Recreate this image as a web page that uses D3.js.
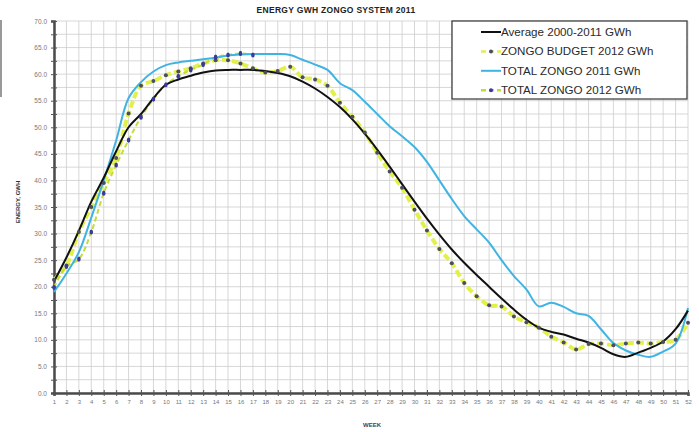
<!DOCTYPE html>
<html>
<head>
<meta charset="utf-8">
<script src="https://cdn.jsdelivr.net/npm/d3@7"></script>
<style>
  body { margin: 0; background: #fff; }
  svg { display: block; font-family: Arial, "Liberation Sans", sans-serif; }
</style>
</head>
<body>
<div id="plot"></div>
<script>
// Chart data
const weeks = [1,2,3,4,5,6,7,8,9,10,11,12,13,14,15,16,17,18,19,20,21,22,23,24,25,26,
               27,28,29,30,31,32,33,34,35,36,37,38,39,40,41,42,43,44,45,46,47,48,49,50,51,52];

const average = [21.0,25.5,30.5,36.0,40.5,45.5,50.0,52.5,55.5,58.0,59.0,59.7,60.3,60.7,60.8,60.8,
                 60.8,60.6,60.2,59.6,58.6,57.3,55.7,53.8,51.5,48.8,45.8,42.6,39.3,36.0,32.8,29.8,
                 27.0,24.5,22.2,20.0,17.8,15.7,13.8,12.3,11.5,11.0,10.2,9.5,8.5,7.3,6.8,7.6,8.5,9.7,12.0,15.5];

const budget2012 = [21.3,24.0,30.3,35.0,39.5,44.2,52.6,57.8,58.7,59.8,60.5,61.1,62.0,62.6,62.6,62.0,
                    61.1,60.3,60.6,61.4,59.4,59.0,57.8,54.6,52.0,49.0,45.2,41.7,38.6,34.5,30.6,27.1,
                    24.4,20.7,18.2,16.5,16.3,14.4,13.3,12.3,10.6,9.5,8.2,9.2,9.3,9.0,9.3,9.5,9.3,9.6,10.0,13.2];

const total2011 = [19.0,22.5,26.5,33.0,40.0,47.5,55.5,58.5,60.5,61.7,62.2,62.5,62.8,63.1,63.5,63.7,
                   63.8,63.8,63.8,63.6,62.7,61.8,60.8,58.3,57.0,54.8,52.5,50.2,48.3,46.3,43.5,40.0,
                   36.5,33.3,30.8,28.3,25.0,22.0,19.5,16.3,17.0,16.2,15.0,14.5,12.0,9.4,8.0,7.2,6.8,7.8,9.3,16.0];

// 2012 actuals only up to week 17
const total2012 = [19.9,23.8,25.2,30.3,37.6,42.9,47.6,51.9,55.3,58.0,59.6,60.8,61.8,63.2,63.6,63.9,63.6];

const yTicks = [0,5,10,15,20,25,30,35,40,45,50,55,60,65,70];

const seriesNames = ["Average  2000-2011 GWh", "ZONGO BUDGET 2012 GWh",
                     "TOTAL ZONGO  2011 GWh", "TOTAL ZONGO  2012 GWh"];

// Set up dimensions
const margin = {top: 21, right: 11, bottom: 39, left: 54};
const width = 699 - margin.left - margin.right;
const height = 432 - margin.top - margin.bottom;

const root = d3.select("#plot")
    .append("svg")
    .attr("width", width + margin.left + margin.right)
    .attr("height", height + margin.top + margin.bottom);

const svg = root.append("g")
    .attr("transform", `translate(${margin.left},${margin.top})`);

// Scales
const x = d3.scaleLinear().domain([1, 52]).range([0, width]);
const y = d3.scaleLinear().domain([0, 70]).range([height, 0]);

// Grid
const minorY = d3.range(0, 70.01, 2.5);
svg.append("g").selectAll("line")
    .data(minorY)
    .join("line")
    .attr("x1", 0).attr("x2", width)
    .attr("y1", d => y(d)).attr("y2", d => y(d))
    .attr("stroke", "#cdcdcd")
    .attr("stroke-width", 0.8);

svg.append("g").selectAll("line")
    .data(weeks)
    .join("line")
    .attr("x1", d => x(d)).attr("x2", d => x(d))
    .attr("y1", 0).attr("y2", height)
    .attr("stroke", "#cdcdcd")
    .attr("stroke-width", 0.8);

// Axes
const yAxis = svg.append("g")
    .call(d3.axisLeft(y).tickValues(minorY).tickSize(3)
        .tickFormat(d => yTicks.includes(d) ? d.toFixed(1) : ""));
svg.append("g")
    .call(d3.axisRight(y).tickValues(minorY).tickSize(3).tickFormat(""))
    .select(".domain").remove();

const xAxis = svg.append("g")
    .attr("transform", `translate(0,${height})`)
    .call(d3.axisBottom(x).tickValues(weeks).tickSize(3));
svg.append("g")
    .attr("transform", `translate(0,${height})`)
    .call(d3.axisTop(x).tickValues(weeks).tickSize(3).tickFormat(""))
    .select(".domain").remove();

svg.selectAll(".domain").attr("stroke", "#4a4a4a").attr("stroke-width", 2.5);
svg.selectAll(".tick line").attr("stroke", "#555");
yAxis.selectAll("text").attr("font-size", 6.5).attr("fill", "#777").attr("dx", -1);
xAxis.selectAll("text").attr("font-size", 6).attr("fill", "#777").attr("dy", "0.9em");

// Lines
const line = d3.line()
    .x((d, i) => x(weeks[i]))
    .y(d => y(d))
    .curve(d3.curveCatmullRom.alpha(0.5));

svg.append("path").datum(budget2012)
    .attr("fill", "none")
    .attr("stroke", "#e2f04a")
    .attr("stroke-width", 4)
    .attr("stroke-dasharray", "7,3")
    .attr("d", line);

svg.append("path").datum(total2012)
    .attr("fill", "none")
    .attr("stroke", "#c4dc3a")
    .attr("stroke-width", 2)
    .attr("stroke-dasharray", "5,3")
    .attr("d", line);

svg.append("path").datum(total2011)
    .attr("fill", "none")
    .attr("stroke", "#3fb4e2")
    .attr("stroke-width", 2)
    .attr("d", line);

svg.append("path").datum(average)
    .attr("fill", "none")
    .attr("stroke", "#111")
    .attr("stroke-width", 2)
    .attr("d", line);

// Markers
svg.append("g").selectAll("circle")
    .data(budget2012)
    .join("circle")
    .attr("cx", (d, i) => x(weeks[i]))
    .attr("cy", d => y(d))
    .attr("r", 2)
    .attr("fill", "#4c4c62");

svg.append("g").selectAll("ellipse")
    .data(total2012)
    .join("ellipse")
    .attr("cx", (d, i) => x(weeks[i]))
    .attr("cy", d => y(d))
    .attr("rx", 1.8)
    .attr("ry", 2.6)
    .attr("fill", "#3a3a9c");

// Titles
root.append("text")
    .attr("x", 336).attr("y", 13)
    .attr("text-anchor", "middle")
    .attr("font-size", 8.5).attr("font-weight", "bold").attr("fill", "#222")
    .attr("letter-spacing", 0.3)
    .text("ENERGY GWH  ZONGO SYSTEM  2011");

root.append("text")
    .attr("transform", "translate(20,202) rotate(-90)")
    .attr("text-anchor", "middle")
    .attr("font-size", 6).attr("font-weight", "bold").attr("fill", "#333")
    .text("ENERGY, GWH");

root.append("text")
    .attr("x", 372).attr("y", 427)
    .attr("text-anchor", "middle")
    .attr("font-size", 6).attr("font-weight", "bold").attr("fill", "#444")
    .text("WEEK");

// Stray edge of neighbouring chart on the left
root.append("line")
    .attr("x1", 1).attr("x2", 1).attr("y1", 20).attr("y2", 97)
    .attr("stroke", "#777").attr("stroke-width", 1.5);

// Legend
const legend = root.append("g").attr("transform", "translate(452,21)");
legend.append("rect")
    .attr("width", 235).attr("height", 78)
    .attr("fill", "#fff").attr("stroke", "#333").attr("stroke-width", 1.2);

const rows = legend.selectAll("g.row")
    .data(seriesNames)
    .join("g")
    .attr("class", "row")
    .attr("transform", (d, i) => `translate(0,${11 + i * 19.4})`);

rows.append("text")
    .attr("x", 49).attr("y", 4)
    .attr("font-size", 11.6).attr("fill", "#2a2a2a")
    .text(d => d);

rows.filter((d, i) => i === 0 || i === 2).append("line")
    .attr("x1", 29).attr("x2", 49).attr("y1", 0).attr("y2", 0)
    .attr("stroke", (d, i) => i === 0 ? "#111" : "#3fb4e2")
    .attr("stroke-width", 2);

rows.filter((d, i) => i === 1 || i === 3).each(function(d, i) {
    const g = d3.select(this);
    g.append("line")
        .attr("x1", 29).attr("x2", 49).attr("y1", 0).attr("y2", 0)
        .attr("stroke", i === 0 ? "#e2f04a" : "#c4dc3a")
        .attr("stroke-width", 2.5)
        .attr("stroke-dasharray", "5,3");
    g.append("circle")
        .attr("cx", 39).attr("cy", 0).attr("r", 2)
        .attr("fill", i === 0 ? "#4c4c62" : "#3a3a9c");
});
</script>
</body>
</html>
